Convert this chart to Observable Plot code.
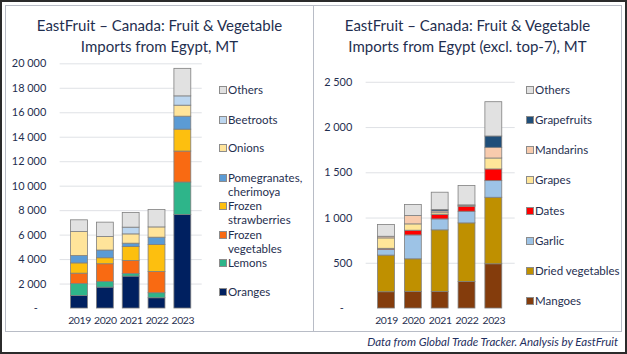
<!DOCTYPE html>
<html>
<head>
<meta charset="utf-8">
<script src="https://cdn.jsdelivr.net/npm/d3@7"></script>
<script src="https://cdn.jsdelivr.net/npm/@observablehq/plot@0.6"></script>
<style>
  html, body { margin: 0; padding: 0; background: #fff; }
  #frame { position: relative; width: 627px; height: 354px; box-sizing: border-box; border: 2px solid #2b2b2b; overflow: hidden; font-family: Lato, "Open Sans", sans-serif; color: #1f2f50; }
  .panel { position: absolute; top: 3px; height: 327px; box-sizing: border-box; border: 1px solid #b8bcc6; }
  .title { position: absolute; width: 100%; text-align: center; font-size: 15px; line-height: 21px; top: 9px; color: #1f2f50; }
  .chart { position: absolute; top: 0; }
  .leg { position: absolute; font-size: 11.5px; line-height: 13.5px; color: #1f2f50; white-space: nowrap; }
  .sw { position: absolute; width: 6px; height: 6px; border: 0.8px solid #8c8c8c; }
  #caption { position: absolute; right: 7px; top: 333px; font-size: 11.5px; font-style: italic; color: #1f2f60; }
  .xax text { letter-spacing: -0.35px; }
</style>
</head>
<body>
<div id="frame">
  <div class="panel" id="pl" style="left:3px; width:309px;"><div class="title">EastFruit – Canada: Fruit &amp; Vegetable<br>Imports from Egypt, MT</div></div>
  <div class="panel" id="pr" style="left:311px; width:309px;"><div class="title">EastFruit – Canada: Fruit &amp; Vegetable<br>Imports from Egypt (excl. top-7), MT</div></div>
  <div id="caption">Data from Global Trade Tracker. Analysis by EastFruit</div>
</div>
<script>
// ---------- data ----------
const years = ["2019", "2020", "2021", "2022", "2023"];

// Left chart: all imports, MT (bottom to top)
const leftSeries = ["Oranges", "Lemons", "Frozen vegetables", "Frozen strawberries", "Pomegranates, cherimoya", "Onions", "Beetroots", "Others"];
const leftLegendLabels = ["Oranges", "Lemons", "Frozen\nvegetables", "Frozen\nstrawberries", "Pomegranates,\ncherimoya", "Onions", "Beetroots", "Others"];
const leftColors = ["#002060", "#2eb58a", "#f96a12", "#fdbf0f", "#5b9bd5", "#ffe49a", "#bcd6ef", "#e1e1e1"];
const oranges = [1030, 1710, 2610, 840, 7640];
const lemons = [980, 470, 220, 410, 2660];
const frozenVegetables = [840, 1440, 1060, 1740, 2530];
const frozenStrawberries = [840, 490, 1140, 2200, 1790];
const pomegranates = [600, 630, 270, 600, 1060];
const onions = [1960, 1110, 760, 840, 900];
const beetroots = [0, 0, 550, 0, 760];
const othersLeft = [960, 1170, 1200, 1420, 2250];
const leftValues = [oranges, lemons, frozenVegetables, frozenStrawberries, pomegranates, onions, beetroots, othersLeft];
const leftTicks = [0, 2000, 4000, 6000, 8000, 10000, 12000, 14000, 16000, 18000, 20000];

// Right chart: excl. top-7, MT (bottom to top)
const rightSeries = ["Mangoes", "Dried vegetables", "Garlic", "Dates", "Grapes", "Mandarins", "Grapefruits", "Others"];
const rightColors = ["#843c0c", "#bf9000", "#9dc3e6", "#ff0000", "#ffe699", "#f8cbad", "#1f4e79", "#e1e1e1"];
const mangoes = [180, 184, 184, 294, 489];
const driedVegetables = [405, 360, 680, 647, 735];
const garlic = [65, 264, 121, 129, 184];
const dates = [10, 52, 48, 55, 129];
const grapes = [115, 70, 20, 10, 121];
const mandarins = [18, 92, 20, 5, 118];
const grapefruits = [0, 0, 16, 0, 125];
const othersRight = [130, 122, 191, 213, 379];
const rightValues = [mangoes, driedVegetables, garlic, dates, grapes, mandarins, grapefruits, othersRight];
const rightTicks = [0, 500, 1000, 1500, 2000, 2500];

// ---------- helpers ----------
const fmt = v => v === 0 ? "-\u00a0\u00a0\u00a0" : d3.format(",")(v).replace(/,/g, " ");
const tableOf = (series, values) => series.flatMap((s, i) => years.map((y, j) => ({year: y, series: s, value: values[i][j]})));

function chart(series, colors, values, ticks, ymax, opts) {
  return Plot.plot({
    width: 309, height: 330,
    marginLeft: opts.ml, marginRight: opts.mr, marginTop: opts.mt, marginBottom: 26,
    style: {fontFamily: "Lato, 'Open Sans', sans-serif", fontSize: "11px", color: "#1f2f50", background: "transparent", overflow: "visible"},
    x: {domain: years, padding: 0.36, label: null, tickSize: 0, tickPadding: 8},
    y: {domain: [0, ymax], ticks, tickFormat: fmt, label: null, tickSize: 0, tickPadding: 14},
    color: {domain: series, range: colors},
    marks: [
      Plot.gridY(ticks.filter(t => t > 0), {stroke: "#d6d9de", strokeOpacity: 1, strokeWidth: 0.8}),
      Plot.axisY({ticks, tickFormat: fmt, tickSize: 0, tickPadding: 14, fontSize: 11, fill: "#1f2f50", label: null}),
      Plot.axisX({tickSize: 0, tickPadding: 8, fontSize: 10.5, fill: "#1f2f50", label: null, className: "xax"}),
      Plot.barY(tableOf(series, values).filter(d => d.value > 0), {
        x: "year", y: "value", fill: "series", stroke: "#7f7f7f", strokeWidth: 0.8, order: series
      })
    ]
  });
}

const leftChart = chart(leftSeries, leftColors, leftValues, leftTicks, 20000, {ml: 54, mr: 112, mt: 57.7});
leftChart.style.left = "0px"; leftChart.style.top = "0px"; leftChart.style.position = "absolute";
document.getElementById("pl").appendChild(leftChart);

const rightChart = chart(rightSeries, rightColors, rightValues, rightTicks, 2500, {ml: 52, mr: 107, mt: 76.3});
rightChart.style.left = "0px"; rightChart.style.top = "0px"; rightChart.style.position = "absolute";
document.getElementById("pr").appendChild(rightChart);

// ---------- legends (top-to-bottom = reverse stack order) ----------
function legend(panelId, labels, colors, centers, swX, txtX) {
  const panel = document.getElementById(panelId);
  labels.forEach((lab, i) => {
    const cy = centers[i];
    const sw = document.createElement("div");
    sw.className = "sw";
    sw.style.left = swX + "px"; sw.style.top = (cy - 4) + "px"; sw.style.background = colors[i];
    panel.appendChild(sw);
    const t = document.createElement("div");
    t.className = "leg";
    t.style.left = txtX + "px"; t.style.top = (cy - 7) + "px";
    t.innerHTML = lab.split("\n").join("<br>");
    panel.appendChild(t);
  });
}
const leftCenters = [83.7, 113.7, 142, 172, 200.3, 229.3, 257.3, 286.3];
legend("pl", leftLegendLabels.slice().reverse(), leftColors.slice().reverse(), leftCenters, 213, 222);
const rightCenters = [83.7, 113.9, 144.1, 174.3, 204.5, 234.7, 264.9, 295.1];
legend("pr", rightSeries.slice().reverse(), rightColors.slice().reverse(), rightCenters, 212, 221);
</script>
</body>
</html>
